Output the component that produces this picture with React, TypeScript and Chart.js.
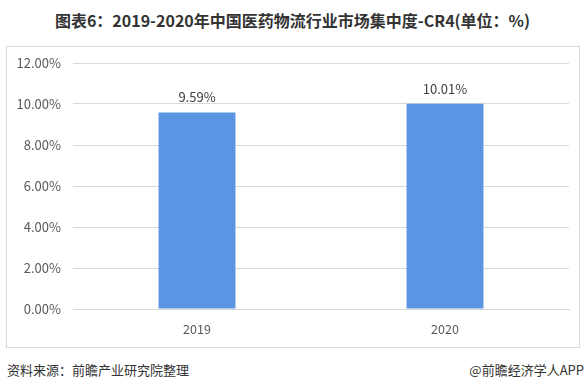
import React, { useEffect, useRef } from "react";
import { Chart, registerables } from "chart.js";

Chart.register(...registerables);

const categories = ["2019", "2020"];
const values = [9.59, 10.01];
const yTicks = [0, 2, 4, 6, 8, 10, 12];
const title = "图表6：2019-2020年中国医药物流行业市场集中度-CR4(单位：%)";
const source = "资料来源：前瞻产业研究院整理";
const credit = "@前瞻经济学人APP";

const FONT = "'Microsoft YaHei', 'Noto Sans CJK SC', 'Noto Sans', sans-serif";

const valueLabelPlugin = {
  id: "valueLabels",
  afterDatasetsDraw(chart: any) {
    const ctx = chart.ctx;
    const meta = chart.getDatasetMeta(0);
    ctx.save();
    ctx.font = `13px ${FONT}`;
    ctx.fillStyle = "#404040";
    ctx.textAlign = "center";
    ctx.textBaseline = "middle";
    meta.data.forEach((bar: any, i: number) => {
      ctx.fillText(values[i].toFixed(2) + "%", bar.x, bar.y - 15);
    });
    ctx.restore();
  },
};

export default function App() {
  const ref = useRef<HTMLCanvasElement>(null);
  useEffect(() => {
    document.body.style.margin = "0";
    const chart = new Chart(ref.current!, {
      type: "bar",
      data: {
        labels: categories,
        datasets: [
          {
            data: values,
            backgroundColor: "#5b94e2",
            barPercentage: 0.62,
            categoryPercentage: 0.5,
          },
        ],
      },
      options: {
        animation: false,
        responsive: false,
        maintainAspectRatio: false,
        layout: { padding: { left: 0, right: 10, top: 16, bottom: 0 } },
        plugins: {
          legend: { display: false },
          tooltip: { enabled: false },
        },
        scales: {
          x: {
            grid: { display: false, drawTicks: false },
            border: { display: true, color: "#d9d9d9" },
            ticks: {
              padding: 13,
              color: "#595959",
              font: { size: 12.5, family: FONT },
            },
            afterFit(scale: any) {
              scale.height = 38;
              scale.paddingLeft = 0;
              scale.paddingRight = 0;
            },
          },
          y: {
            min: 0,
            max: 12,
            afterBuildTicks(scale: any) {
              scale.ticks = yTicks.map((v) => ({ value: v }));
            },
            grid: { color: "#d9d9d9", drawTicks: false },
            border: { display: false },
            ticks: {
              padding: 12,
              color: "#595959",
              font: { size: 13, family: FONT },
              callback: (v: any) => Number(v).toFixed(2) + "%",
            },
            afterFit(scale: any) {
              scale.width = 66;
              scale.paddingTop = 0;
              scale.paddingBottom = 0;
            },
          },
        },
      },
      plugins: [valueLabelPlugin],
    });
    return () => chart.destroy();
  }, []);

  return (
    <div
      style={{
        position: "fixed",
        left: 0,
        top: 0,
        width: 585,
        height: 390,
        background: "#fff",
        fontFamily: FONT,
      }}
    >
      <div
        style={{
          position: "absolute",
          left: 0,
          width: 585,
          top: 9,
          textAlign: "center",
          fontSize: 16,
          fontWeight: "bold",
          color: "#333",
          lineHeight: "22px",
        }}
      >
        {title}
      </div>
      <div
        style={{
          position: "absolute",
          left: 6,
          top: 46,
          width: 574,
          height: 302,
          border: "1px solid #d9d9d9",
          boxSizing: "border-box",
        }}
      >
        <canvas
          ref={ref}
          width={572}
          height={300}
          style={{ display: "block", width: 572, height: 300 }}
        />
      </div>
      <div
        style={{
          position: "absolute",
          left: 7,
          top: 361,
          fontSize: 13,
          color: "#333",
          lineHeight: "18px",
        }}
      >
        {source}
      </div>
      <div
        style={{
          position: "absolute",
          right: 1,
          top: 361,
          fontSize: 13,
          color: "#333",
          lineHeight: "18px",
        }}
      >
        {credit}
      </div>
    </div>
  );
}
